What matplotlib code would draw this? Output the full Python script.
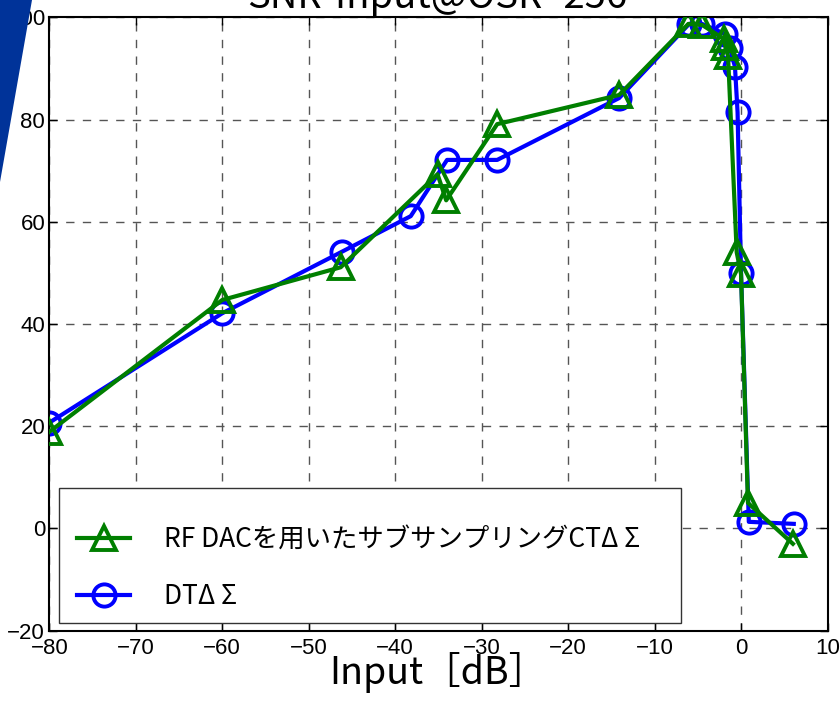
import matplotlib
matplotlib.use("Agg")
import matplotlib.pyplot as plt
from matplotlib.patches import Polygon, Rectangle

# SNR vs input level
ct_x = [-80, -60, -46.3, -35.1, -34.1, -28.2, -14.1, -6.1, -4.5, -2.0, -1.8, -1.5, -0.5, 0.0, 0.8, 6.0]
ct_y = [18.9, 44.7, 51.1, 69.3, 64.2, 79.1, 84.8, 98.7, 98.5, 95.8, 94.2, 92.4, 54.0, 49.8, 5.0, -3.0]

dt_x = [-80, -60, -46.2, -38.2, -34.0, -28.2, -14.1, -6.0, -4.5, -1.8, -1.3, -0.7, -0.4, 0.0, 0.9, 6.1]
dt_y = [20.7, 42.1, 54.1, 61.1, 72.1, 72.1, 84.2, 98.7, 98.7, 96.7, 94.0, 90.3, 81.4, 50.0, 1.3, 0.9]

ct_label = "RF DACを用いたサブサンプリングCTΔ Σ"
dt_label = "DTΔ Σ"
title_text = "SNR-Input@OSR=256"
xlabel_text = "Input［dB］"

xticks = list(range(-80, 11, 10))
yticks = list(range(-20, 101, 20))

jp_font = ["Noto Sans CJK JP", "DejaVu Sans"]
tick_font = ["Liberation Sans Narrow", "Liberation Sans", "DejaVu Sans"]

fig = plt.figure(figsize=(8.4, 7.08), dpi=100)

# blue slide decoration in the top-left corner
wedge = Polygon([(0, 1), (32 / 840, 1), (0, 1 - 182 / 708)], closed=True,
                transform=fig.transFigure, facecolor="#003399", edgecolor="none", zorder=0)
fig.patches.append(wedge)

ax = fig.add_axes([49.3 / 840, (708 - 630.7) / 708, 778.2 / 840, 613.4 / 708])
ax.set_facecolor("none")

ax.plot(ct_x, ct_y, color="#007f00", lw=3, marker="^", ms=17, mfc="none", mew=2.8,
        label=ct_label, zorder=3)
ax.plot(dt_x, dt_y, color="#0000ff", lw=3, marker="o", ms=16, mfc="none", mew=2.8,
        label=dt_label, zorder=2)

ax.set_xlim(-80, 10)
ax.set_ylim(-20, 100)
ax.set_xticks(xticks)
ax.set_yticks(yticks)
ax.grid(True, linestyle=(0, (6, 6)), color="#555555", lw=1)
ax.tick_params(direction="in", top=True, right=True, length=6, width=1, labelsize=16)
ax.tick_params(axis="x", pad=5)
ax.tick_params(axis="y", pad=3)
for lab in ax.get_xticklabels() + ax.get_yticklabels():
    lab.set_family(tick_font)
for s in ax.spines.values():
    s.set_linewidth(1.5)

# legend frame drawn by hand so the rows can sit low in the box like the original
box = Rectangle((0.0125, 0.013), 0.799, 0.219, transform=ax.transAxes,
                facecolor="white", edgecolor="#333333", lw=1, zorder=4)
ax.add_patch(box)
leg = ax.legend(loc="center left", bbox_to_anchor=(0.036, 0.102), frameon=False,
                borderaxespad=0, borderpad=0, prop={"family": jp_font, "size": 19},
                handlelength=2.0, handletextpad=1.3, labelspacing=1.15, numpoints=1)
leg.set_zorder(5)

fig.text(437 / 840, 1 - 8 / 708, title_text, ha="center", va="baseline",
         fontsize=27.5, family=jp_font)
fig.text(438 / 840, 1 - 684 / 708, xlabel_text, ha="center", va="baseline",
         fontsize=27, family=jp_font)

fig.savefig("out.png", dpi=100)
